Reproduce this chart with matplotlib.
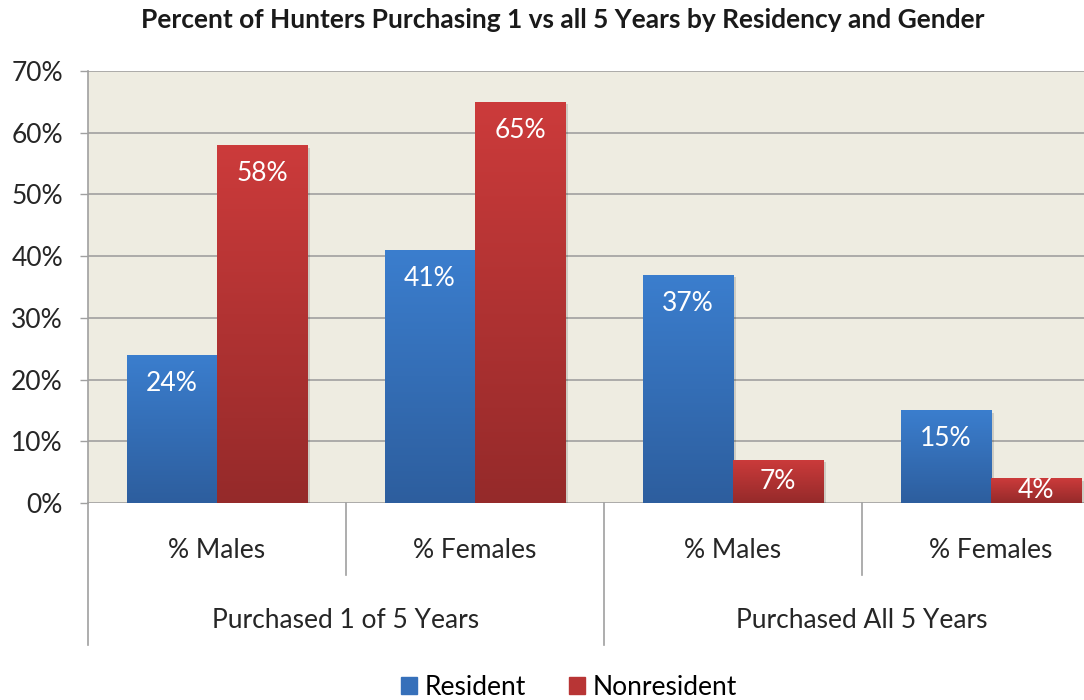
import matplotlib
matplotlib.use("Agg")
import matplotlib.pyplot as plt
import numpy as np
from matplotlib.colors import LinearSegmentedColormap
import matplotlib.transforms as mtransforms
from matplotlib.patches import Patch

plt.rcParams['font.family'] = ['Lato', 'DejaVu Sans']

subcats = ["% Males", "% Females", "% Males", "% Females"]
groups = ["Purchased 1 of 5 Years", "Purchased All 5 Years"]
series_names = ["Resident", "Nonresident"]
resident = [24, 41, 37, 15]
nonresident = [58, 65, 7, 4]
labels_res = ["24%", "41%", "37%", "15%"]
labels_non = ["58%", "65%", "7%", "4%"]
title = "Percent of Hunters Purchasing 1 vs all 5 Years by Residency and Gender"

FS = 19

fig = plt.figure(figsize=(10.84, 7.0), dpi=100)
ax = fig.add_axes([88/1084, 197/700, 1032/1084, 432/700])
ax.set_facecolor("#EEECE1")

x = np.arange(len(subcats))
w = 0.35
b1 = ax.bar(x - w/2, resident, w, color="#3A78C4", zorder=3)
b2 = ax.bar(x + w/2, nonresident, w, color="#B83535", zorder=3)

cm_blue = LinearSegmentedColormap.from_list("b", ["#2D5E9E", "#3B7ECE"])
cm_red = LinearSegmentedColormap.from_list("r", ["#952A2A", "#CC3B3B"])
grad = np.linspace(0, 1, 256).reshape(-1, 1)
for bars, cm in ((b1, cm_blue), (b2, cm_red)):
    for p in bars:
        x0, y0 = p.get_x(), p.get_y()
        ww, hh = p.get_width(), p.get_height()
        sh = plt.Rectangle((x0 + 0.012, y0), ww, hh - 0.4, color="#00000022", zorder=2, lw=0)
        ax.add_patch(sh)
        im = ax.imshow(grad, cmap=cm, origin="lower", aspect="auto",
                       extent=(x0, x0 + ww, y0, y0 + hh), zorder=4)
        im.set_clip_path(p)

ax.set_xlim(-0.5, 3.5)
ax.set_ylim(0, 70)
ax.set_yticks(range(0, 71, 10))
ax.set_yticklabels([f"{v}%" for v in range(0, 71, 10)], fontsize=FS, color="#262626")
ax.tick_params(axis="y", length=6, width=1, color="#A0A0A0", pad=12)
ax.set_xticks([])
ax.yaxis.grid(True, color="#A0A0A0", lw=1.2, zorder=1)
ax.set_axisbelow(True)
for s in ["top", "right", "bottom"]:
    ax.spines[s].set_visible(False)
ax.spines["left"].set_color("#A0A0A0")
ax.spines["left"].set_linewidth(1.2)

for bars, labs in ((b1, labels_res), (b2, labels_non)):
    for p, lab in zip(bars, labs):
        v = p.get_height()
        yy = max(v - 4.6, v / 2)
        ax.text(p.get_x() + p.get_width()/2, yy, lab, ha="center", va="center",
                color="white", fontsize=FS, zorder=6)

trans = mtransforms.blended_transform_factory(ax.transData, ax.transAxes)
for xs, yb in ((-0.5, -0.329), (0.5, -0.167), (1.5, -0.329), (2.5, -0.167), (3.5, -0.329)):
    ax.plot([xs, xs], [0, yb], transform=trans, color="#A0A0A0", lw=1.2, clip_on=False)
for xi, lab in zip(x, subcats):
    ax.text(xi, -0.109, lab, transform=trans, ha="center", va="center", fontsize=FS, color="#262626")
for gi, g in enumerate(groups):
    ax.text(gi*2 + 0.5, -0.273, g, transform=trans, ha="center", va="center", fontsize=FS, color="#262626")

fig.text(0.519, 0.972, title, ha="center", va="center", fontsize=19, fontweight="bold", color="#1a1a1a")

handles = [Patch(color="#3670BA"), Patch(color="#B83535")]
fig.legend(handles, series_names, loc="center", bbox_to_anchor=(0.525, 0.018), ncol=2,
           frameon=False, fontsize=FS, handlelength=0.6, handleheight=0.6,
           handletextpad=0.3, columnspacing=1.6)

fig.savefig("out.png", dpi=100, facecolor="white")
